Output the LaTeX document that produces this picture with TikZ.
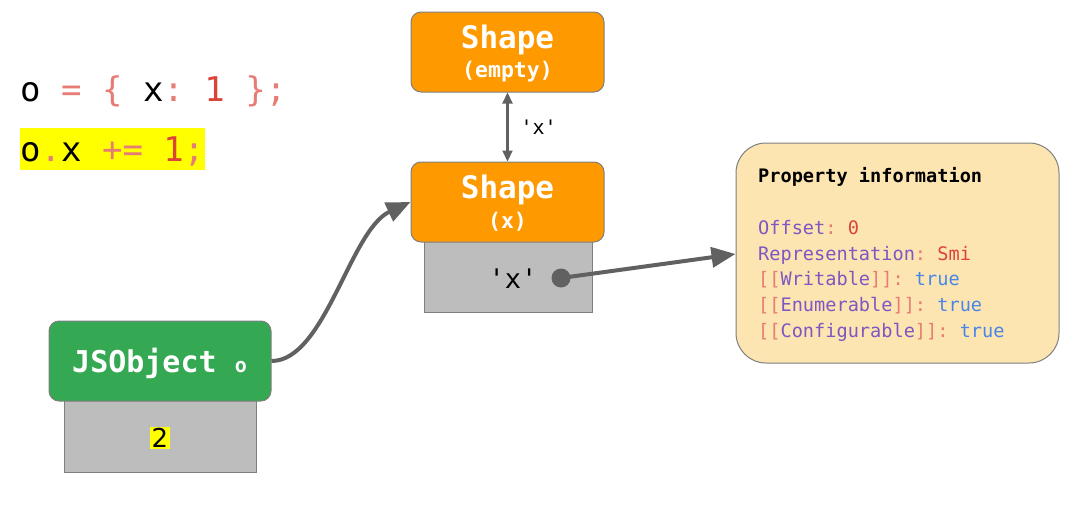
\documentclass[tikz,border=0pt]{standalone}
\usepackage{fontspec}
\setmainfont{DejaVu Sans}
\setmonofont{DejaVu Sans Mono}
\usetikzlibrary{arrows.meta}
\definecolor{orangeS}{HTML}{FF9900}
\definecolor{greenS}{HTML}{34A853}
\definecolor{grayfill}{HTML}{BDBDBD}
\definecolor{bordergray}{HTML}{7F7F7F}
\definecolor{propfill}{HTML}{FCE5B1}
\definecolor{arrowgray}{HTML}{616161}
\definecolor{salmon}{HTML}{E67C73}
\definecolor{redS}{HTML}{DB4437}
\definecolor{purpleS}{HTML}{7E57C2}
\definecolor{blueS}{HTML}{4A86E8}
\definecolor{yellowS}{HTML}{FFFF00}
\newcommand{\fs}[1]{\fontsize{#1}{#1}\selectfont}
\tikzset{
  headbox/.style={draw=bordergray, line width=1pt, rounded corners=10pt, text=white, align=center, font=\ttfamily\bfseries, inner sep=0pt},
  slotbox/.style={draw=bordergray, line width=1pt, fill=grayfill, inner sep=0pt},
  bigarrow/.style={draw=arrowgray, line width=4pt, -{Triangle[length=24pt,width=20pt]}},
  smallarrow/.style={draw=arrowgray, line width=2.2pt, {Triangle[length=11pt,width=10pt]}-{Triangle[length=11pt,width=10pt]}},
  code/.style={anchor=base west, inner sep=0pt, font=\ttfamily\fs{34}},
}
\begin{document}
\begin{tikzpicture}[x=1pt,y=-1pt]
\useasboundingbox (0,0) rectangle (1080,504);
% code lines
\node[code] (l1) at (20,101) {o \textcolor{salmon}{= \{} x\textcolor{salmon}{:} \textcolor{redS}{1} \textcolor{salmon}{\};}};
\fill[yellowS] (20,128) rectangle (205,170);
\node[code] (l2) at (20,161) {o\textcolor{salmon}{.}x \textcolor{salmon}{+=} \textcolor{redS}{1}\textcolor{salmon}{;}};
% shapes
\node[headbox, fill=orangeS, minimum width=193pt, minimum height=80pt] (se) at (507.5,52) {};
\node[text=white, font=\ttfamily\bfseries\fs{31}, inner sep=0pt] (set) at (507.5,40) {Shape};
\node[text=white, font=\ttfamily\bfseries\fs{21.5}, inner sep=0pt] (ses) at (507.5,72) {(empty)};
\node[slotbox, minimum width=168pt, minimum height=72pt] (sslot) at (508,276) {};
\node[headbox, fill=orangeS, minimum width=193pt, minimum height=80pt] (sx) at (507.5,202) {};
\node[text=white, font=\ttfamily\bfseries\fs{31}, inner sep=0pt] (sxt) at (507.5,190) {Shape};
\node[text=white, font=\ttfamily\bfseries\fs{21.5}, inner sep=0pt] (sxs) at (507.5,222) {(x)};
\node[font=\ttfamily\fs{27}, inner sep=0pt] (xkey) at (513,279) {'x'};
\node[circle, fill=arrowgray, minimum size=19pt, inner sep=0pt] (dot) at (561,278) {};
% double arrow
\draw[smallarrow] (se.south) -- (sx.north) node[midway, right=12pt, font=\ttfamily\fs{20}, inner sep=0pt] (lbl) {'x'};
% property info
\node[draw=bordergray, line width=1pt, fill=propfill, rounded corners=30pt, minimum width=323pt, minimum height=220pt, inner sep=0pt] (prop) at (897.5,253) {};
\begin{scope}[every node/.style={anchor=base west, inner sep=0pt, font=\ttfamily\fs{18.6}}]
\node (p0) at (758,182) {\bfseries Property information};
\node (p1) at (758,234) {\textcolor{purpleS}{Offset}\textcolor{salmon}{:} \textcolor{redS}{0}};
\node (p2) at (758,260) {\textcolor{purpleS}{Representation}\textcolor{salmon}{:} \textcolor{redS}{Smi}};
\node (p3) at (758,285.5) {\textcolor{salmon}{[[}\textcolor{purpleS}{Writable}\textcolor{salmon}{]]:} \textcolor{blueS}{true}};
\node (p4) at (758,311) {\textcolor{salmon}{[[}\textcolor{purpleS}{Enumerable}\textcolor{salmon}{]]:} \textcolor{blueS}{true}};
\node (p5) at (758,337) {\textcolor{salmon}{[[}\textcolor{purpleS}{Configurable}\textcolor{salmon}{]]:} \textcolor{blueS}{true}};
\end{scope}
% JSObject
\node[slotbox, minimum width=192pt, minimum height=72pt] (jslot) at (160,436) {};
\node[headbox, fill=greenS, minimum width=222pt, minimum height=80pt] (jso) at (160,361) {};
\node[text=white, font=\ttfamily\bfseries, inner sep=0pt, anchor=base west] (jst) at (72,372) {\fs{30}JSObject {\fs{20}o}};
\node[fill=yellowS, font=\fs{26}, inner sep=1.5pt] (two) at (160,438) {2};
% arrows
\draw[bigarrow] (jso.east) .. controls (325,361) and (350,230) .. (sx.west);
\draw[bigarrow] (dot.center) -- (prop.west |- 0,254);
\end{tikzpicture}
\end{document}
